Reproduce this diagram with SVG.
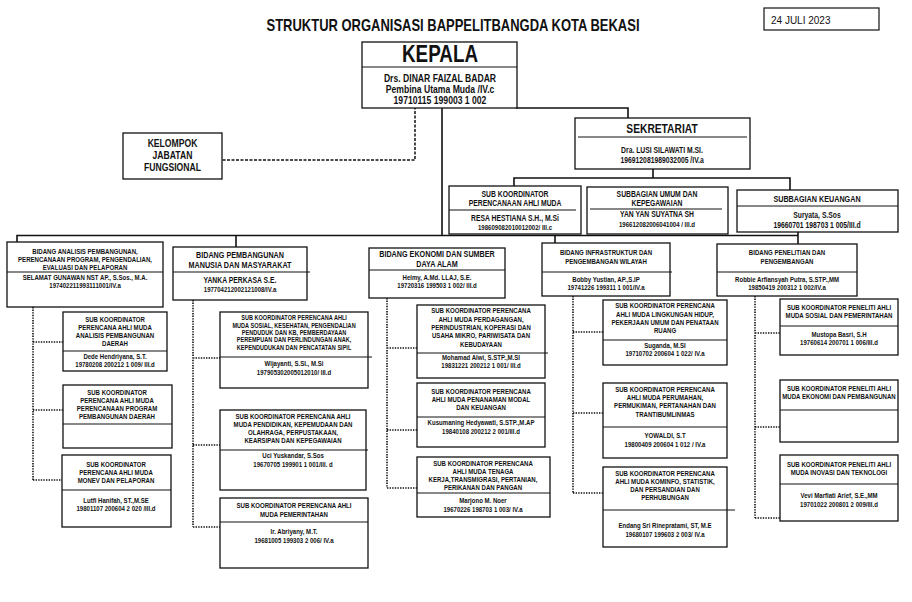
<svg xmlns="http://www.w3.org/2000/svg" width="912" height="602" viewBox="0 0 912 602">
<style>
.bg{fill:#fff}
.box{fill:#fff;stroke:#111;stroke-width:1.3}
.dv{stroke:#111;stroke-width:1}
.ln{fill:none;stroke:#111;stroke-width:1.6}
.dash{fill:none;stroke:#111;stroke-width:1.5;stroke-dasharray:3 1.5}
.dot{fill:none;stroke:#111;stroke-width:1.6;stroke-dasharray:1.4 1.2}
text{font-family:"Liberation Sans",Arial,sans-serif;font-weight:bold;fill:#111;text-anchor:middle;transform-box:fill-box;transform-origin:center;transform:scaleX(.82)}
text.nt{transform:none}
.f6{font-size:6.8px}
.f7{font-size:7.4px}
.f8{font-size:8.3px}
.f9{font-size:8.8px}
.f10{font-size:10.5px}
.f12{font-size:12.5px}
</style>
<rect class="bg" width="912" height="602"/>
<text class="nt" x="453" y="31" style="font-size:17px" textLength="373" lengthAdjust="spacingAndGlyphs">STRUKTUR ORGANISASI BAPPELITBANGDA KOTA BEKASI</text>
<g id="date">
<rect x="764" y="8" width="115" height="22" fill="#fff" stroke="#111" stroke-width="1.2"/>
<text class="nt" x="771" y="24" style="font-weight:normal;font-size:10px;text-anchor:start">24 JULI 2023</text>
</g>
<g id="connectors">
<path class="ln" d="M516,108 H628 V118"/>
<path class="ln" d="M442,108 V235"/>
<path class="dash" d="M415,102 V160 H222"/>
<path class="ln" d="M17,242 V235.5 H798"/>
<path class="ln" d="M798,232 V244"/>
<path class="ln" d="M236,235 V247"/>
<path class="ln" d="M555,235 V243"/>
<path class="ln" d="M653,169 V178"/>
<path class="ln" d="M514,186 V178 H790 V190"/>
<path class="dot" d="M33,307 V480 M33,342 H63 M33,410 H63 M33,480 H62"/>
<path class="dot" d="M193,300 V527 M193,358 H220 M193,445 H220 M193,527 H220"/>
<path class="dot" d="M387,298 V488 M387,348 H417 M387,430 H417 M387,488 H417"/>
<path class="dot" d="M573,296 V493 M573,332 H603 M573,413 H603 M573,493 H603"/>
<path class="dot" d="M755,296 V518 M755,333 H780 M755,427 H780 M755,518 H780"/>
</g>
<g id="kepala">
<rect class="box" x="362" y="42" width="155" height="66"/>
<line class="dv" x1="362" y1="67" x2="517" y2="67"/>
<text x="440" y="62" style="font-size:23px">KEPALA</text>
<text class="f10" x="440" y="82">Drs. DINAR FAIZAL BADAR</text>
<text class="f10" x="440" y="93">Pembina Utama Muda /IV.c</text>
<text class="f10" x="440" y="104">19710115 199003 1 002</text>
</g>
<g id="kelompok">
<rect class="box" x="123" y="133" width="99" height="46"/>
<text class="f10" x="172.5" y="147">KELOMPOK</text>
<text class="f10" x="172.5" y="159">JABATAN</text>
<text class="f10" x="172.5" y="171">FUNGSIONAL</text>
</g>
<g id="sekretariat">
<rect class="box" x="575" y="118" width="175" height="51"/>
<line class="dv" x1="578" y1="137" x2="747" y2="137"/>
<text class="f12" x="662" y="133">SEKRETARIAT</text>
<text class="f8" x="662" y="153">Dra. LUSI SILAWATI M.SI.</text>
<text class="f8" x="662" y="163">196912081989032005 /IV.a</text>
</g>
<g id="subkoord">
<rect class="box" x="449" y="186" width="132" height="48"/>
<line class="dv" x1="449" y1="210" x2="576" y2="210"/>
<text class="f8" x="515" y="197">SUB KOORDINATOR</text>
<text class="f8" x="515" y="206">PERENCANAAN AHLI MUDA</text>
<text class="f8" x="515" y="221">RESA HESTIANA S.H., M.Si</text>
<text class="f7" x="515" y="230">198609082010012002/ III.c</text>
</g>
<g id="umum">
<rect class="box" x="587" y="187" width="141" height="47"/>
<line class="dv" x1="590" y1="209" x2="722" y2="209"/>
<text class="f8" x="657" y="197">SUBBAGIAN UMUM DAN</text>
<text class="f8" x="657" y="206">KEPEGAWAIAN</text>
<text class="f8" x="657" y="217">YAN YAN SUYATNA SH</text>
<text class="f7" x="657" y="227">196612082006041004 / III.d</text>
</g>
<g id="keuangan">
<rect class="box" x="737" y="190" width="161" height="42"/>
<line class="dv" x1="737" y1="206" x2="898" y2="206"/>
<text class="f9" x="817" y="202">SUBBAGIAN KEUANGAN</text>
<text class="f8" x="817" y="218">Suryata, S.Sos</text>
<text class="f8" x="817" y="228">19660701 198703 1 005/III.d</text>
</g>
<g id="bidang-analisis">
<rect class="box" x="7" y="242" width="156" height="65"/>
<line class="dv" x1="7" y1="272" x2="163" y2="272"/>
<text class="f7" x="85" y="254">BIDANG ANALISIS PEMBANGUNAN,</text>
<text class="f7" x="85" y="262">PERENCANAAN PROGRAM, PENGENDALIAN,</text>
<text class="f7" x="85" y="270">EVALUASI DAN PELAPORAN</text>
<text class="f7" x="85" y="280">SELAMAT GUNAWAN NST AP., S.Sos., M.A.</text>
<text class="f7" x="85" y="288">197402211993111001/IV.a</text>
</g>
<g id="bidang-manusia">
<rect class="box" x="173" y="247" width="134" height="53"/>
<line class="dv" x1="173" y1="272" x2="310" y2="272"/>
<text class="f9" x="240" y="258">BIDANG PEMBANGUNAN</text>
<text class="f9" x="240" y="268">MANUSIA DAN MASYARAKAT</text>
<text class="f8" x="240" y="283">YANKA PERKASA S.E.</text>
<text class="f7" x="240" y="292">197704212002121008/IV.a</text>
</g>
<g id="bidang-ekonomi">
<rect class="box" x="369" y="248" width="136" height="50"/>
<line class="dv" x1="369" y1="270" x2="505" y2="270"/>
<text class="f9" x="437" y="257">BIDANG EKONOMI DAN SUMBER</text>
<text class="f9" x="437" y="267">DAYA ALAM</text>
<text class="f7" x="437" y="280">Helmy, A.Md. LLAJ, S.E.</text>
<text class="f7" x="437" y="288">19720316 199503 1 002/ III.d</text>
</g>
<g id="bidang-infrastruktur">
<rect class="box" x="542" y="243" width="128" height="53"/>
<line class="dv" x1="542" y1="272" x2="672" y2="272"/>
<text class="f7" x="606" y="255">BIDANG INFRASTRUKTUR DAN</text>
<text class="f7" x="606" y="264">PENGEMBANGAN WILAYAH</text>
<text class="f7" x="606" y="282">Bobby Yustian, AP.,S.IP</text>
<text class="f7" x="606" y="290">19741226 199311 1 001/IV.a</text>
</g>
<g id="bidang-penelitian">
<rect class="box" x="717" y="244" width="140" height="52"/>
<line class="dv" x1="717" y1="272" x2="857" y2="272"/>
<text class="f7" x="787" y="255">BIDANG PENELITIAN DAN</text>
<text class="f7" x="787" y="264">PENGEMBANGAN</text>
<text class="f7" x="787" y="282">Robbie Arfiansyah Putra, S.STP.,MM</text>
<text class="f7" x="787" y="290">19850419 200312 1 002/IV.a</text>
</g>
<g id="sub-a1">
<rect class="box" x="63" y="312" width="104" height="59"/>
<line class="dv" x1="63" y1="351" x2="167" y2="351"/>
<text class="f7" x="115" y="322">SUB KOORDINATOR</text>
<text class="f7" x="115" y="330">PERENCANA AHLI MUDA</text>
<text class="f7" x="115" y="338">ANALISIS PEMBANGUNAN</text>
<text class="f7" x="115" y="346">DAERAH</text>
<text class="f7" x="115" y="359">Dede Hendriyana, S.T.</text>
<text class="f7" x="115" y="367.5">19780208 200212 1 009/ III.d</text>
</g>
<g id="sub-a2">
<rect class="box" x="63" y="385" width="109" height="63"/>
<line class="dv" x1="63" y1="424" x2="172" y2="424"/>
<text class="f7" x="117" y="395">SUB KOORDINATOR</text>
<text class="f7" x="117" y="403">PERENCANA AHLI MUDA</text>
<text class="f7" x="117" y="411">PERENCANAAN PROGRAM</text>
<text class="f7" x="117" y="419">PEMBANGUNAN DAERAH</text>
</g>
<g id="sub-a3">
<rect class="box" x="62" y="455" width="109" height="72"/>
<line class="dv" x1="62" y1="490" x2="171" y2="490"/>
<text class="f7" x="116" y="467">SUB KOORDINATOR</text>
<text class="f7" x="116" y="475">PERENCANA AHLI MUDA</text>
<text class="f7" x="116" y="483">MONEV DAN PELAPORAN</text>
<text class="f7" x="116" y="503">Lutfi Hanifah, ST.,M.SE</text>
<text class="f7" x="116" y="511">19801107 200604 2 020 /III.d</text>
</g>
<g id="sub-b1">
<rect class="box" x="220" y="312" width="148" height="76"/>
<line class="dv" x1="220" y1="357" x2="372" y2="357"/>
<text class="f6" x="294" y="320">SUB KOORDINATOR PERENCANA AHLI</text>
<text class="f6" x="294" y="328">MUDA SOSIAL, KESEHATAN, PENGENDALIAN</text>
<text class="f6" x="294" y="335">PENDUDUK DAN KB, PEMBERDAYAAN</text>
<text class="f6" x="294" y="342">PEREMPUAN DAN PERLINDUNGAN ANAK,</text>
<text class="f6" x="294" y="350">KEPENDUDUKAN DAN PENCATATAN SIPIL</text>
<text class="f7" x="294" y="366">Wijayanti, S.SI., M.Si</text>
<text class="f7" x="294" y="375">197905302005012010/ III.d</text>
</g>
<g id="sub-b2">
<rect class="box" x="220" y="410" width="146" height="80"/>
<line class="dv" x1="220" y1="450" x2="368" y2="450"/>
<text class="f7" x="293" y="419">SUB KOORDINATOR PERENCANA AHLI</text>
<text class="f7" x="293" y="427">MUDA PENDIDIKAN, KEPEMUDAAN DAN</text>
<text class="f7" x="293" y="435">OLAHRAGA, PERPUSTAKAAN,</text>
<text class="f7" x="293" y="443">KEARSIPAN DAN KEPEGAWAIAN</text>
<text class="f7" x="293" y="458">Uci Yuskandar, S.Sos</text>
<text class="f7" x="293" y="467">19670705 199901 1 001/III. d</text>
</g>
<g id="sub-b3">
<rect class="box" x="220" y="498" width="148" height="70"/>
<line class="dv" x1="220" y1="522" x2="368" y2="522"/>
<text class="f7" x="294" y="508">SUB KOORDINATOR PERENCANA AHLI</text>
<text class="f7" x="294" y="517">MUDA PEMERINTAHAN</text>
<text class="f7" x="294" y="534">Ir. Abriyany, M.T.</text>
<text class="f7" x="294" y="543">19681005 199303 2 006/ IV.a</text>
</g>
<g id="sub-c1">
<rect class="box" x="417" y="305" width="128" height="73"/>
<line class="dv" x1="417" y1="353" x2="548" y2="353"/>
<text class="f7" x="481" y="313">SUB KOORDINATOR PERENCANA</text>
<text class="f7" x="481" y="322">AHLI MUDA PERDAGANGAN,</text>
<text class="f7" x="481" y="330">PERINDUSTRIAN, KOPERASI DAN</text>
<text class="f7" x="481" y="338">USAHA MIKRO, PARIWISATA DAN</text>
<text class="f7" x="481" y="347">KEBUDAYAAN</text>
<text class="f7" x="481" y="360">Mohamad Alwi, S.STP.,M.SI</text>
<text class="f7" x="481" y="368">19831221 200212 1 001/ III.d</text>
</g>
<g id="sub-c2">
<rect class="box" x="417" y="383" width="128" height="64"/>
<line class="dv" x1="417" y1="417" x2="545" y2="417"/>
<text class="f7" x="481" y="394">SUB KOORDINATOR PERENCANA</text>
<text class="f7" x="481" y="402">AHLI MUDA PENANAMAN MODAL</text>
<text class="f7" x="481" y="410">DAN KEUANGAN</text>
<text class="f7" x="481" y="425">Kusumaning Hedyawati, S.STP.,M.AP</text>
<text class="f7" x="481" y="434">19840108 200212 2 001/III.d</text>
</g>
<g id="sub-c3">
<rect class="box" x="417" y="457" width="133" height="60"/>
<line class="dv" x1="417" y1="493" x2="550" y2="493"/>
<text class="f7" x="483" y="466">SUB KOORDINATOR PERENCANA</text>
<text class="f7" x="483" y="474">AHLI MUDA TENAGA</text>
<text class="f7" x="483" y="482">KERJA,TRANSMIGRASI, PERTANIAN,</text>
<text class="f7" x="483" y="490">PERIKANAN DAN PANGAN</text>
<text class="f7" x="483" y="503">Marjono M. Noer</text>
<text class="f7" x="483" y="512">19670226 198703 1 003/ IV.a</text>
</g>
<g id="sub-d1">
<rect class="box" x="603" y="300" width="124" height="65"/>
<line class="dv" x1="603" y1="340" x2="727" y2="340"/>
<text class="f7" x="665" y="308">SUB KOORDINATOR PERENCANA</text>
<text class="f7" x="665" y="317">AHLI MUDA LINGKUNGAN HIDUP,</text>
<text class="f7" x="665" y="325">PEKERJAAN UMUM DAN PENATAAN</text>
<text class="f7" x="665" y="333">RUANG</text>
<text class="f7" x="665" y="348">Suganda, M.SI</text>
<text class="f7" x="665" y="356">19710702 200604 1 022/ IV.a</text>
</g>
<g id="sub-d2">
<rect class="box" x="603" y="383" width="124" height="75"/>
<line class="dv" x1="603" y1="427" x2="727" y2="427"/>
<text class="f7" x="665" y="392">SUB KOORDINATOR PERENCANA</text>
<text class="f7" x="665" y="400">AHLI MUDA PERUMAHAN,</text>
<text class="f7" x="665" y="408">PERMUKIMAN, PERTANAHAN DAN</text>
<text class="f7" x="665" y="417">TRANTIBUMLINMAS</text>
<text class="f7" x="665" y="438">YOWALDI, S.T</text>
<text class="f7" x="665" y="447">19800409 200604 1 012 / IV.a</text>
</g>
<g id="sub-d3">
<rect class="box" x="603" y="467" width="124" height="80"/>
<line class="dv" x1="603" y1="510" x2="735" y2="510"/>
<text class="f7" x="665" y="476">SUB KOORDINATOR PERENCANA</text>
<text class="f7" x="665" y="484">AHLI MUDA KOMINFO, STATISTIK,</text>
<text class="f7" x="665" y="492">DAN PERSANDIAN DAN</text>
<text class="f7" x="665" y="500">PERHUBUNGAN</text>
<text class="f7" x="665" y="528">Endang Sri Rinepratami, ST, M.E</text>
<text class="f7" x="665" y="537">19680107 199603 2 003/ IV.a</text>
</g>
<g id="sub-e1">
<rect class="box" x="780" y="299" width="118" height="56"/>
<line class="dv" x1="780" y1="326" x2="898" y2="326"/>
<text class="f7" x="839" y="310">SUB KOORDINATOR PENELITI AHLI</text>
<text class="f7" x="839" y="318">MUDA SOSIAL DAN PEMERINTAHAN</text>
<text class="f7" x="839" y="337">Mustopa Basri, S.H</text>
<text class="f7" x="839" y="345">19760614 200701 1 006/III.d</text>
</g>
<g id="sub-e2">
<rect class="box" x="780" y="380" width="118" height="62"/>
<line class="dv" x1="780" y1="410" x2="898" y2="410"/>
<text class="f7" x="839" y="391">SUB KOORDINATOR PENELITI AHLI</text>
<text class="f7" x="839" y="399">MUDA EKONOMI DAN PEMBANGUNAN</text>
</g>
<g id="sub-e3">
<rect class="box" x="780" y="455" width="118" height="66"/>
<line class="dv" x1="780" y1="484" x2="898" y2="484"/>
<text class="f7" x="839" y="467">SUB KOORDINATOR PENELITI AHLI</text>
<text class="f7" x="839" y="475">MUDA INOVASI DAN TEKNOLOGI</text>
<text class="f7" x="839" y="498">Vevi Marfiati Arief, S.E.,MM</text>
<text class="f7" x="839" y="507">19701022 200801 2 009/III.d</text>
</g>
</svg>
